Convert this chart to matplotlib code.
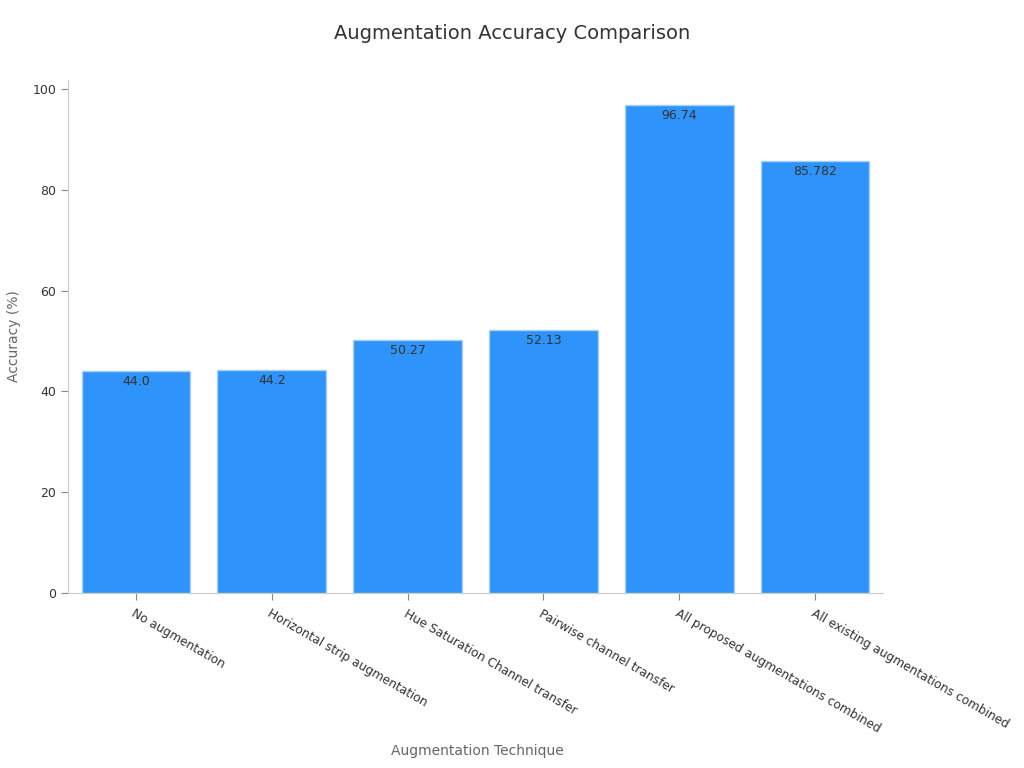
import matplotlib.pyplot as plt

techniques = ['No augmentation', 'Horizontal strip augmentation', 'Hue Saturation Channel transfer',
              'Pairwise channel transfer', 'All proposed augmentations combined',
              'All existing augmentations combined']
accuracy = [44.0, 44.2, 50.27, 52.13, 96.74, 85.782]
value_labels = ['44.0', '44.2', '50.27', '52.13', '96.74', '85.782']

fig = plt.figure(figsize=(10.24, 7.68), dpi=100)
ax = fig.add_axes([0.0664, 0.2279, 0.7959, 0.668])

x = range(len(techniques))
bars = ax.bar(x, accuracy, width=0.8, color='#2E93FA', edgecolor='#A8CFF5', linewidth=1)

# подписи значений внутри столбцов
for b, lab in zip(bars, value_labels):
    ax.text(b.get_x() + b.get_width() / 2, b.get_height() - 0.8, lab,
            ha='center', va='top', fontsize=9, color='#333333')

ax.set_xlim(-0.5, 5.5)
ax.set_ylim(0, 101.8)
ax.set_yticks([0, 20, 40, 60, 80, 100])
ax.set_xticks(list(x))
ax.set_xticklabels(techniques, rotation=-30, ha='left', rotation_mode='anchor',
                   fontsize=8.7, color='#333333')
ax.tick_params(axis='y', labelsize=9, labelcolor='#333333', color='#888888', length=5)
ax.tick_params(axis='x', color='#888888', length=5, pad=5)

for s in ['top', 'right']:
    ax.spines[s].set_visible(False)
for s in ['left', 'bottom']:
    ax.spines[s].set_color('#CCCCCC')

ax.set_ylabel('Accuracy (%)', fontsize=10, color='#666666', labelpad=8)
fig.text(0.466, 0.022, 'Augmentation Technique', fontsize=10, color='#666666',
         ha='center', va='center')
fig.text(0.5, 0.957, 'Augmentation Accuracy Comparison', fontsize=14, color='#333333',
         ha='center', va='center')

fig.savefig('out.png', dpi=100)
